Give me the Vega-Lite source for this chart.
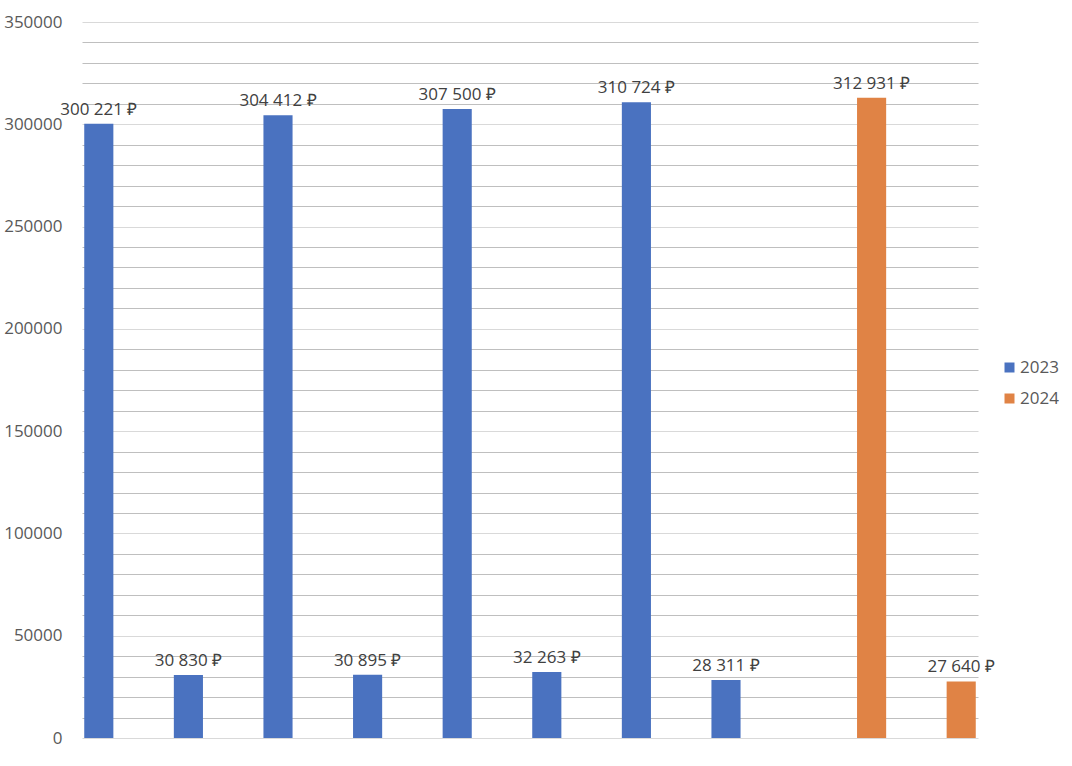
{
  "$schema": "https://vega.github.io/schema/vega-lite/v6.json",
  "width": 896,
  "height": 716,
  "autosize": {"type": "none"},
  "padding": {"left": 82, "top": 22, "right": 94, "bottom": 28},
  "background": "white",
  "data": {
    "values": [
      {"c": 1, "year": "2023", "value": 300221},
      {"c": 2, "year": "2023", "value": 30830},
      {"c": 3, "year": "2023", "value": 304412},
      {"c": 4, "year": "2023", "value": 30895},
      {"c": 5, "year": "2023", "value": 307500},
      {"c": 6, "year": "2023", "value": 32263},
      {"c": 7, "year": "2023", "value": 310724},
      {"c": 8, "year": "2023", "value": 28311},
      {"c": 9, "year": "2024", "value": 312931},
      {"c": 10, "year": "2024", "value": 27640}
    ]
  },
  "encoding": {
    "x": {
      "field": "c",
      "type": "ordinal",
      "axis": null,
      "scale": {"domain": [1, 2, 3, 4, 5, 6, 7, 8, 9, 10], "paddingInner": 0, "paddingOuter": 0}
    },
    "xOffset": {
      "field": "year",
      "type": "nominal",
      "scale": {"domain": ["2023", "2024"], "paddingInner": 0.48, "paddingOuter": 0.04}
    },
    "y": {
      "field": "value",
      "type": "quantitative",
      "scale": {"domain": [0, 350000], "nice": false},
      "axis": {
        "title": null,
        "values": [0, 10000, 20000, 30000, 40000, 50000, 60000, 70000, 80000, 90000, 100000, 110000, 120000, 130000, 140000, 150000, 160000, 170000, 180000, 190000, 200000, 210000, 220000, 230000, 240000, 250000, 260000, 270000, 280000, 290000, 300000, 310000, 320000, 330000, 340000, 350000],
        "labelExpr": "datum.value % 50000 === 0 ? format(datum.value, 'd') : ''",
        "domain": false,
        "ticks": false,
        "labelPadding": 20,
        "labelFont": "Open Sans",
        "labelFontSize": 17,
        "labelColor": "#595959",
        "grid": true,
        "gridColor": {"condition": {"test": "datum.value % 50000 === 0", "value": "#d9d9d9"}, "value": "#bfbfbf"},
        "gridWidth": 1
      }
    },
    "color": {
      "field": "year",
      "type": "nominal",
      "scale": {"domain": ["2023", "2024"], "range": ["#4a72c0", "#e08345"]},
      "legend": {
        "title": null,
        "orient": "none",
        "legendX": 919,
        "legendY": 337,
        "symbolType": "square",
        "symbolSize": 100,
        "symbolStrokeWidth": 0,
        "labelFont": "Open Sans",
        "labelFontSize": 17,
        "labelColor": "#595959",
        "labelOffset": 2,
        "rowPadding": 13
      }
    }
  },
  "layer": [
    {"mark": {"type": "bar"}},
    {
      "mark": {"type": "text", "font": "Open Sans", "fontSize": 17, "color": "#404040", "baseline": "alphabetic", "dy": -9},
      "encoding": {
        "text": {"field": "value", "type": "quantitative", "format": "$,.0f"},
        "color": {"value": "#404040"}
      }
    }
  ],
  "config": {
    "view": {"stroke": null},
    "locale": {
      "number": {
        "decimal": ",",
        "thousands": "\u00a0",
        "grouping": [3],
        "currency": ["", "\u00a0₽"]
      }
    }
  }
}
